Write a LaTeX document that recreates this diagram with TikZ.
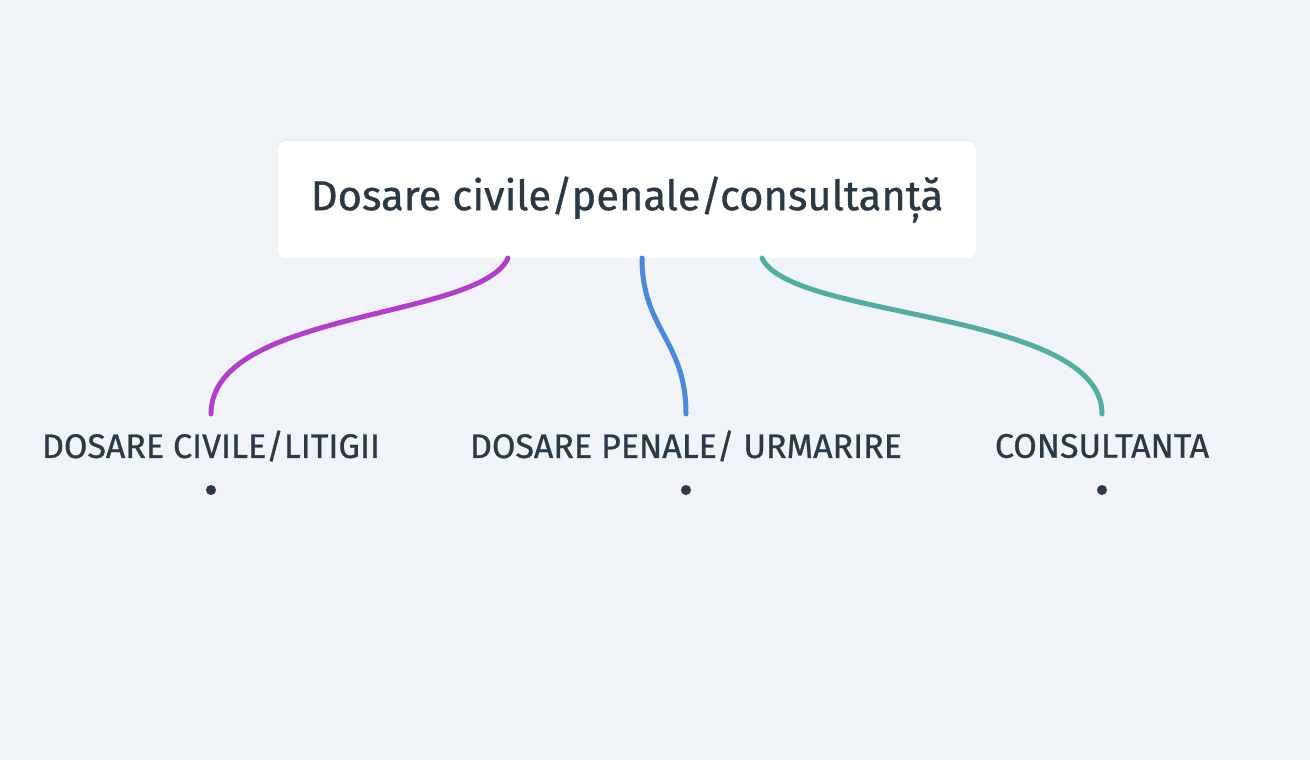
\documentclass[tikz,border=0pt]{standalone}
\usepackage{fontspec}
\setmainfont{Fira Sans}[RawFeature={embolden=0.8}]
\usepackage{tikz}
\usetikzlibrary{shadows}

\definecolor{bgGrey}{HTML}{F0F3F7}
\definecolor{inkDark}{HTML}{2B3947}
\definecolor{branchPurple}{HTML}{B23ECC}
\definecolor{branchBlue}{HTML}{4A88DA}
\definecolor{branchTeal}{HTML}{52AE9F}

\tikzset{
    rootbox/.style={fill=white, rounded corners=8, minimum width=698, minimum height=117,
        inner sep=0, text=inkDark, font=\fontsize{41.7}{44}\selectfont,
        drop shadow={opacity=0.05, shadow xshift=0, shadow yshift=-2}},
    leaflabel/.style={text=inkDark, inner sep=0, font=\fontsize{34}{38}\selectfont},
    leafdot/.style={circle, fill=inkDark, inner sep=0, minimum size=10},
    branch/.style={line width=5, line cap=round}
}

\begin{document}
\begin{tikzpicture}[x=1pt, y=-1pt]
    \useasboundingbox[fill=bgGrey] (0,0) rectangle (1310,760);
    \node[rootbox] (root) at (627,199.5) {Dosare civile/penale/consultanță};
    % leaves
    \node[leaflabel] (civil) at (211,446) {DOSARE CIVILE/LITIGII};
    \node[leaflabel] (penal) at (686,446) {DOSARE PENALE/ URMARIRE};
    \node[leaflabel] (consult) at (1102,446) {CONSULTANTA};
    \node[leafdot] (civilDot) at (211,490) {};
    \node[leafdot] (penalDot) at (686,490) {};
    \node[leafdot] (consultDot) at (1102,490) {};
    % branch ends
    \coordinate (civilTop) at (508,258);
    \coordinate (penalTop) at (642,258);
    \coordinate (consultTop) at (762,258);
    \coordinate (civilEnd) at (211,414);
    \coordinate (penalEnd) at (686,414);
    \coordinate (consultEnd) at (1102,414);
    \draw [branch, branchPurple] (civilTop) .. controls (480,320) and (211,310) .. (civilEnd);
    \draw [branch, branchBlue] (penalTop) .. controls (642,330) and (686,340) .. (penalEnd);
    \draw [branch, branchTeal] (consultTop) .. controls (790,320) and (1102,310) .. (consultEnd);
\end{tikzpicture}
\end{document}
